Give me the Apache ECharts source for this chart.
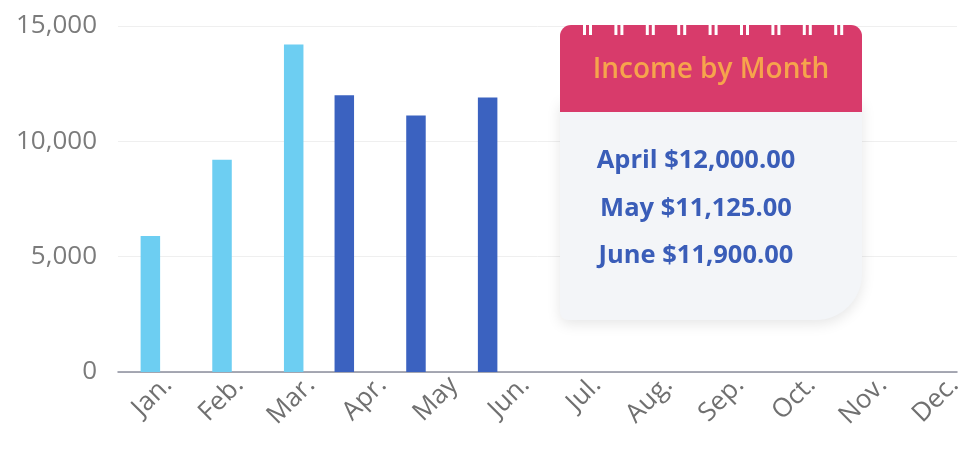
<!DOCTYPE html>
<html>
<head>
<meta charset="utf-8">
<script src="https://cdn.jsdelivr.net/npm/echarts@6/dist/echarts.min.js"></script>
<style>
  html, body { margin: 0; padding: 0; background: #ffffff; }
  #chart { width: 962px; height: 452px; }
</style>
</head>
<body>
<div id="chart"></div>
<script>
// ---- data ----
const months = ['Jan.', 'Feb.', 'Mar.', 'Apr.', 'May', 'Jun.', 'Jul.', 'Aug.', 'Sep.', 'Oct.', 'Nov.', 'Dec.'];
const firstQuarterIncome = [5900, 9200, 14200, null, null, null, null, null, null, null, null, null];
const secondQuarterIncome = [null, null, null, 12000, 11125, 11900, null, null, null, null, null, null];
const yMin = 0;
const yMax = 15000;
const yInterval = 5000;
const cardTitle = 'Income by Month';
const cardMonthNames = ['April', 'May', 'June'];
const cardMonthIndex = [3, 4, 5];

// ---- helpers ----
function money(v) {
  return '$' + v.toLocaleString('en-US', { minimumFractionDigits: 2, maximumFractionDigits: 2 });
}
const cardLines = cardMonthNames.map((m, i) => m + ' ' + money(secondQuarterIncome[cardMonthIndex[i]]));

const chart = echarts.init(document.getElementById('chart'), null, { renderer: 'canvas' });

const FONT = '"Open Sans", "Noto Sans", sans-serif';
const lightBlue = '#6DCEF2';
const darkBlue = '#3B62C0';

// notch pairs on calendar header
const notches = [];
for (let i = 0; i < 9; i++) {
  const x0 = 583 + i * 31.4;
  notches.push({ type: 'rect', shape: { x: x0, y: 22, width: 3, height: 13 }, style: { fill: '#ffffff' }, z: 110 });
  notches.push({ type: 'rect', shape: { x: x0 + 6, y: 22, width: 3, height: 13 }, style: { fill: '#ffffff' }, z: 110 });
}

const option = {
  backgroundColor: '#ffffff',
  animation: false,
  grid: [
    { left: 104, right: -2, top: 26, bottom: 80, outerBoundsMode: 'none', containLabel: false },    // bars
    { left: 118, right: 5, top: 26, bottom: 80, outerBoundsMode: 'none', containLabel: false },     // frame
    { left: 132, right: -28, top: 26, bottom: 80, outerBoundsMode: 'none', containLabel: false }    // x labels
  ],
  xAxis: [
    { gridIndex: 0, type: 'category', data: months, axisLine: { show: false }, axisTick: { show: false }, axisLabel: { show: false } },
    { gridIndex: 1, type: 'category', data: months, axisLine: { show: true, lineStyle: { color: '#8a8d9c', width: 1.5 } }, axisTick: { show: false }, axisLabel: { show: false } },
    { gridIndex: 2, type: 'category', data: months, axisLine: { show: false }, axisTick: { show: false },
      axisLabel: { show: true, rotate: 45, interval: 0, margin: 9, color: '#707070', fontSize: 26, fontFamily: FONT } }
  ],
  yAxis: [
    { gridIndex: 0, type: 'value', min: yMin, max: yMax, interval: yInterval, show: false },
    { gridIndex: 1, type: 'value', min: yMin, max: yMax, interval: yInterval,
      axisLine: { show: false }, axisTick: { show: false },
      axisLabel: { margin: 21, color: '#7b7b7b', fontSize: 26, fontFamily: FONT,
        formatter: v => v.toLocaleString('en-US') },
      splitLine: { show: true, lineStyle: { color: '#efefef', width: 1 } } },
    { gridIndex: 2, type: 'value', min: yMin, max: yMax, interval: yInterval, show: false }
  ],
  series: [
    { type: 'bar', xAxisIndex: 0, yAxisIndex: 0, data: secondQuarterIncome, barWidth: 19.5, barGap: '8%',
      itemStyle: { color: darkBlue }, z: 3 },
    { type: 'bar', xAxisIndex: 0, yAxisIndex: 0, data: firstQuarterIncome, barWidth: 19.5, barGap: '8%',
      itemStyle: { color: lightBlue }, z: 3 }
  ],
  graphic: [
    { type: 'rect', shape: { x: 560, y: 100, width: 302, height: 220, r: [0, 0, 46, 8] },
      style: { fill: '#F3F5F8', shadowBlur: 14, shadowColor: 'rgba(0,0,0,0.10)', shadowOffsetY: 4 }, z: 100 },
    { type: 'rect', shape: { x: 560, y: 25, width: 302, height: 87, r: [11, 11, 0, 0] },
      style: { fill: '#D83B6B' }, z: 105 },
    ...notches,
    { type: 'text', x: 711, y: 70, z: 120,
      style: { text: cardTitle, fill: '#F6A44C', font: '600 28px ' + FONT, textAlign: 'center', textVerticalAlign: 'middle' } },
    ...cardLines.map((t, i) => ({ type: 'text', x: 696, y: 161 + i * 47.5, z: 120,
      style: { text: t, fill: '#3A5DB8', font: 'bold 25.5px ' + FONT, textAlign: 'center', textVerticalAlign: 'middle' } }))
  ]
};

chart.setOption(option);
</script>
</body>
</html>
